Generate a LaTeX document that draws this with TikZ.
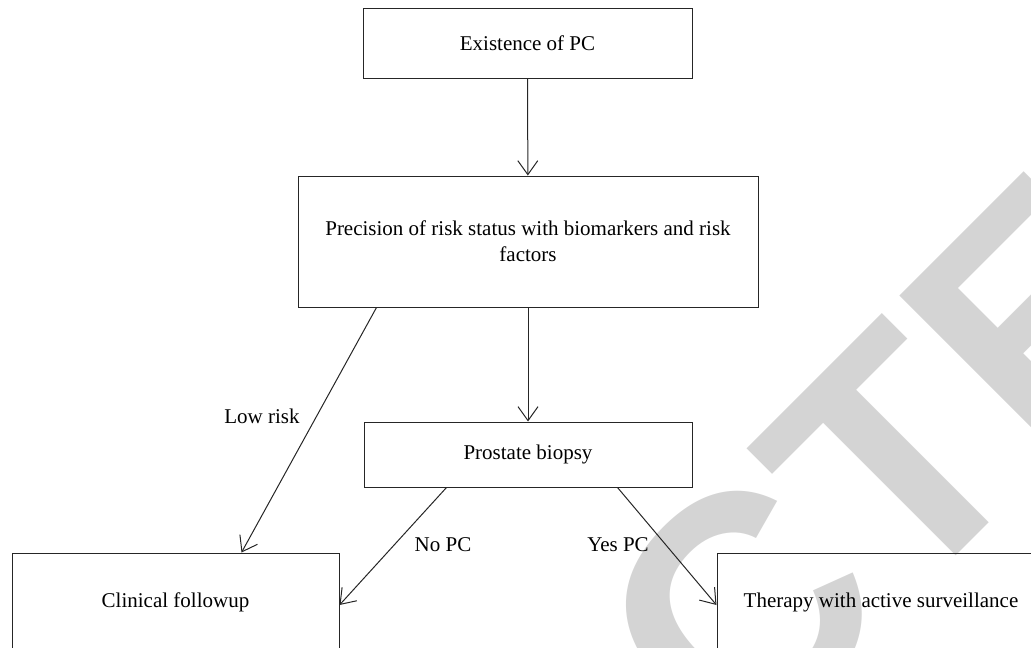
\documentclass[tikz,border=0pt]{standalone}
\usepackage{fontspec}
\setmainfont{Liberation Serif}
\newfontfamily\stampfont{Liberation Sans}
\usetikzlibrary{arrows.meta}

\tikzset{
  box/.style={draw=black!85, line width=1pt, inner sep=0pt, align=center,
    font=\fontsize{21}{26}\selectfont},
  flow/.style={draw=black!85, line width=1pt,
    -{Straight Barb[length=14pt, width=20pt, line width=1pt]}},
  tag/.style={inner sep=0pt, font=\fontsize{21}{26}\selectfont}
}

\begin{document}
\begin{tikzpicture}[x=1pt, y=-1pt]
  \useasboundingbox (0,0) rectangle (1031,648);
  \clip (0,0) rectangle (1031,648);

  % Watermark
  \node[rotate=45, anchor=base west, inner sep=0pt, text=black!17,
    font=\stampfont\bfseries\fontsize{325}{325}\selectfont] (stamp) at (-62,1574) {RETRA\kern10pt CTED};

  % Boxes
  \node[box, minimum width=329pt, minimum height=70pt] (exist) at (527.5,43) {Existence of PC};
  \node[box, minimum width=460pt, minimum height=131pt] (precision) at (528,241.5)
    {Precision of risk status with biomarkers and risk\\factors};
  \node[box, minimum width=328pt, minimum height=65pt] (biopsy) at (528,454.5) {Prostate biopsy};
  \node[box, minimum width=327pt, minimum height=98pt] (followup) at (175.5,602) {Clinical followup};
  \node[box, minimum width=328pt, minimum height=98pt] (therapy) at (881,602) {Therapy with active surveillance};

  % Arrows
  \draw[flow] (exist) -- (precision);
  \draw[flow] (precision) -- (biopsy);
  \draw[flow] ([xshift=79pt]precision.south west) -- ([xshift=230pt]followup.north west);
  \draw[flow] ([xshift=83pt]biopsy.south west) -- ([yshift=-3pt]followup.east);
  \draw[flow] ([xshift=-75pt]biopsy.south east) -- ([yshift=-3pt]therapy.west);

  % Labels
  \node[tag] (lowrisk) at (262,416) {Low risk};
  \node[tag] (nopc) at (443,545) {No PC};
  \node[tag] (yespc) at (618,545) {Yes PC};
\end{tikzpicture}
\end{document}
